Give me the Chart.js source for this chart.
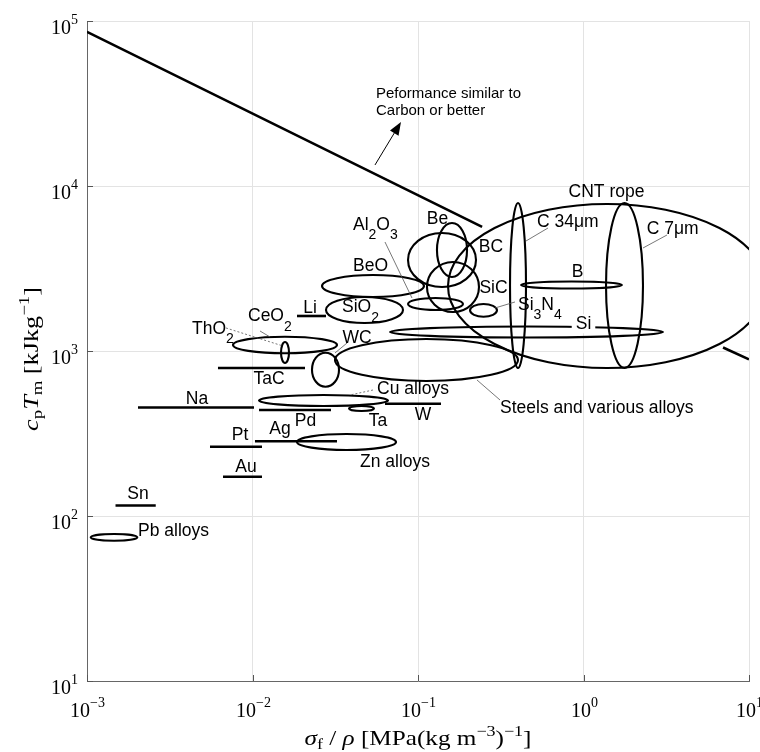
<!DOCTYPE html>
<html>
<head>
<meta charset="utf-8">
<title>cpTm vs specific strength</title>
<script src="https://cdn.jsdelivr.net/npm/chart.js"></script>
<style>
    html, body { margin: 0; padding: 0; background: #fff; }
    #wrap { width: 760px; height: 752px; }
</style>
</head>
<body>
<div id="wrap"><canvas id="chart"></canvas></div>
<script>
// decades on both axes
const xTicks = [1e-3, 1e-2, 1e-1, 1e0, 1e1];
const yTicks = [1e1, 1e2, 1e3, 1e4, 1e5];

// materials drawn as ellipses: strength/density range and cpTm range
const ellipseMaterials = ['Pb alloys', 'Zn alloys', 'Cu alloys', 'Ta', 'WC', 'CeO2', 'ThO2', 'SiO2', 'BeO', 'Al2O3',
    'Be', 'BC', 'SiC', 'Si3N4', 'Steels', 'Si', 'B', 'C 34um', 'C 7um', 'CNT rope'];
const ellipseX = [
    [0.001053, 0.002014], [0.01857, 0.07366], [0.01095, 0.06589], [0.03829, 0.05421], [0.02288, 0.03332],
    [0.007623, 0.0324], [0.01487, 0.01662], [0.0278, 0.08118], [0.0263, 0.1087], [0.08704, 0.187],
    [0.1302, 0.1978], [0.08704, 0.2241], [0.1133, 0.2336], [0.2062, 0.3001], [0.03151, 0.4019],
    [0.06773, 3.023], [0.4193, 1.708], [0.3597, 0.4494], [1.368, 2.288], [0.1518, 12.67]
];
const ellipseY = [
    [70.8, 77.8], [251.2, 314.0], [464.2, 541.1], [432.9, 464.2], [607.5, 976.6],
    [968.5, 1221], [845.9, 1134], [1478, 2125], [2125, 2887], [1773, 2095],
    [2808, 5967], [2443, 5190], [1724, 3463], [1614, 1927], [658, 1182],
    [1207, 1408], [2392, 2638], [789, 7889], [789, 7889], [789, 7778]
];

// materials with a single cpTm value: strength/density range and cpTm
const barMaterials = ['Sn', 'Na', 'Pt', 'Au', 'Ag', 'Pd', 'W', 'TaC', 'Li'];
const barX = [
    [0.001487, 0.002602], [0.002033, 0.01021], [0.005536, 0.01141], [0.006635, 0.01141], [0.01035, 0.0324],
    [0.01095, 0.0298], [0.06318, 0.1377], [0.006186, 0.02076], [0.01857, 0.0278]
];
const barY = [115.8, 454.6, 263.0, 173.1, 283.6, 438.9, 479.2, 788.9, 1630];

// "similar to carbon" line, hidden where it crosses the CNT region
const limitX = [0.001, 0.244, 1, 6.97, 10];
const limitY = [86000, 5650, null, 1050, 890];

// text labels: text, x, y, align  (_ = subscript char)
const labels = [
    ['CNT rope', 1.377, 9391, 'center'],
    ['C 34\u03bcm', 0.5236, 6137, 'left'],
    ['C 7\u03bcm', 2.409, 5566, 'left'],
    ['Be', 0.1312, 6400, 'center'],
    ['BC', 0.2762, 4329, 'center'],
    ['B', 0.9199, 3053, 'center'],
    ['SiC', 0.2859, 2460, 'center'],
    ['Si_3N_4', 0.4019, 1941, 'left'],
    ['Si', 1.0, 1478, 'center', true],
    ['Al_2O_3', 0.04049, 5926, 'left'],
    ['BeO', 0.05164, 3321, 'center'],
    ['SiO_2', 0.03474, 1874, 'left'],
    ['Li', 0.02226, 1861, 'center'],
    ['CeO_2', 0.009393, 1653, 'left'],
    ['ThO_2', 0.004309, 1388, 'left'],
    ['WC', 0.04279, 1224, 'center'],
    ['TaC', 0.01258, 686.2, 'center'],
    ['Na', 0.00462, 522.6, 'center'],
    ['Cu alloys', 0.05652, 596.8, 'left'],
    ['Pd', 0.0209, 381.8, 'center'],
    ['Ta', 0.05731, 384.5, 'center'],
    ['W', 0.1072, 415.2, 'center'],
    ['Pt', 0.008405, 314.0, 'center'],
    ['Ag', 0.01466, 341.5, 'center'],
    ['Zn alloys', 0.04462, 215.4, 'left'],
    ['Au', 0.009134, 201.0, 'center'],
    ['Sn', 0.002033, 137.9, 'center'],
    ['Pb alloys', 0.002033, 82.3, 'left'],
    ['Steels and various alloys', 0.313, 459.6, 'left']
];
const note = ['Peformance similar to', 'Carbon or better'];
const noteAt = [[0.05573, 36770], [0.05573, 28880]];
const arrow = [0.05497, 13410, 0.07892, 24430];

// leader lines: x1, y1, x2, y2, dashed
const leaders = [
    [0.06318, 4577, 0.09199, 2095, false],
    [0.006917, 1379, 0.01529, 1072, true],
    [0.0111, 1322, 0.01276, 1216, false],
    [0.03724, 1118, 0.03151, 972.5, false],
    [0.05346, 580.2, 0.03882, 541.1, true],
    [0.6103, 5566, 0.4494, 4642, false],
    [3.195, 5047, 2.288, 4209, false],
    [0.3855, 1982, 0.2919, 1822, false],
    [0.313, 504.7, 0.2272, 667.2, false]
];

const SANS = '"Liberation Sans", Arial, sans-serif';
const SERIF = '"Liberation Serif", "Times New Roman", serif';
const LABEL = 17.5;

// draws a row of text pieces (sub/superscripts via dy), sx widens it
function drawRuns(ctx, runs, x, y, align, sx = 1) {
    let w = 0;
    runs.forEach(r => { ctx.font = r.font; r.w = ctx.measureText(r.t).width; w += r.w; });
    const tw = w * sx;
    const start = align === 'center' ? x - tw / 2 : align === 'right' ? x - tw : x;
    ctx.save();
    ctx.translate(start, y);
    ctx.scale(sx, 1);
    ctx.textAlign = 'left';
    ctx.textBaseline = 'alphabetic';
    let cx = 0;
    runs.forEach(r => { ctx.font = r.font; ctx.fillText(r.t, cx, r.dy || 0); cx += r.w; });
    ctx.restore();
    return tw;
}

function labelRuns(text, size) {
    const runs = [];
    let buf = '';
    for (let i = 0; i < text.length; i++) {
        if (text[i] === '_') {
            if (buf) runs.push({ t: buf, font: size + 'px ' + SANS });
            buf = '';
            runs.push({ t: text[i + 1], font: Math.round(size * 0.8) + 'px ' + SANS, dy: size * 0.55 });
            i++;
        } else buf += text[i];
    }
    if (buf) runs.push({ t: buf, font: size + 'px ' + SANS });
    return runs;
}

function powRuns(exp) {
    return [
        { t: '10', font: '20px ' + SERIF },
        { t: exp < 0 ? '\u2212' + (-exp) : String(exp), font: '14px ' + SERIF, dy: -10 }
    ];
}

const ashby = {
    id: 'ashby',
    afterDatasetsDraw(chart) {
        const { ctx, chartArea: a, scales: { x, y } } = chart;
        ctx.save();
        ctx.beginPath();
        ctx.rect(a.left, a.top, a.right - a.left, a.bottom - a.top);
        ctx.clip();

        ctx.strokeStyle = '#000';
        ctx.lineWidth = 2.1;
        ellipseX.forEach((ex, i) => {
            const x0 = x.getPixelForValue(ex[0]), x1 = x.getPixelForValue(ex[1]);
            const y0 = y.getPixelForValue(ellipseY[i][0]), y1 = y.getPixelForValue(ellipseY[i][1]);
            ctx.beginPath();
            ctx.ellipse((x0 + x1) / 2, (y0 + y1) / 2, Math.abs(x1 - x0) / 2, Math.abs(y1 - y0) / 2, 0, 0, Math.PI * 2);
            ctx.stroke();
        });

        // leaders
        ctx.strokeStyle = '#555';
        ctx.lineWidth = 0.8;
        leaders.forEach(l => {
            ctx.setLineDash(l[4] ? [2, 2] : []);
            ctx.beginPath();
            ctx.moveTo(x.getPixelForValue(l[0]), y.getPixelForValue(l[1]));
            ctx.lineTo(x.getPixelForValue(l[2]), y.getPixelForValue(l[3]));
            ctx.stroke();
        });
        ctx.setLineDash([]);

        // arrow
        const ax0 = x.getPixelForValue(arrow[0]), ay0 = y.getPixelForValue(arrow[1]);
        const ax1 = x.getPixelForValue(arrow[2]), ay1 = y.getPixelForValue(arrow[3]);
        const ang = Math.atan2(ay1 - ay0, ax1 - ax0);
        ctx.strokeStyle = '#000';
        ctx.lineWidth = 1;
        ctx.beginPath();
        ctx.moveTo(ax0, ay0);
        ctx.lineTo(ax1 - 10 * Math.cos(ang), ay1 - 10 * Math.sin(ang));
        ctx.stroke();
        ctx.fillStyle = '#000';
        ctx.beginPath();
        ctx.moveTo(ax1, ay1);
        ctx.lineTo(ax1 - 13 * Math.cos(ang) + 5 * Math.sin(ang), ay1 - 13 * Math.sin(ang) - 5 * Math.cos(ang));
        ctx.lineTo(ax1 - 13 * Math.cos(ang) - 5 * Math.sin(ang), ay1 - 13 * Math.sin(ang) + 5 * Math.cos(ang));
        ctx.closePath();
        ctx.fill();

        // labels
        labels.forEach(l => {
            const px = x.getPixelForValue(l[1]), py = y.getPixelForValue(l[2]) + LABEL * 0.36;
            const runs = labelRuns(l[0], LABEL);
            if (l[4]) {
                ctx.font = LABEL + 'px ' + SANS;
                const w = ctx.measureText(l[0]).width;
                ctx.fillStyle = '#fff';
                ctx.fillRect(px - w / 2 - 4, py - 15, w + 8, 19);
            }
            ctx.fillStyle = '#000';
            drawRuns(ctx, runs, px, py, l[3]);
        });
        note.forEach((t, i) => {
            ctx.fillStyle = '#000';
            drawRuns(ctx, [{ t, font: '15px ' + SANS }], x.getPixelForValue(noteAt[i][0]), y.getPixelForValue(noteAt[i][1]) + 5.4, 'left');
        });
        ctx.restore();
    },
    afterDraw(chart) {
        const { ctx, chartArea: a, scales: { x, y } } = chart;
        ctx.save();
        ctx.fillStyle = '#000';
        ctx.strokeStyle = '#555';
        ctx.lineWidth = 1;
        // inward ticks
        xTicks.forEach(v => {
            const px = Math.round(x.getPixelForValue(v)) + 0.5;
            ctx.beginPath(); ctx.moveTo(px, a.bottom); ctx.lineTo(px, a.bottom - 6); ctx.stroke();
            drawRuns(ctx, powRuns(Math.round(Math.log10(v))), px, a.bottom + 36, 'center');
        });
        yTicks.forEach(v => {
            const py = Math.round(y.getPixelForValue(v)) + 0.5;
            ctx.beginPath(); ctx.moveTo(a.left, py); ctx.lineTo(a.left + 6, py); ctx.stroke();
            drawRuns(ctx, powRuns(Math.round(Math.log10(v))), a.left - 9, py + 12, 'right');
        });

        // x title
        const it = 'italic 21px ' + SERIF, up = '21px ' + SERIF, sm = '15px ' + SERIF;
        drawRuns(ctx, [
            { t: '\u03c3', font: it }, { t: 'f', font: sm, dy: 4 }, { t: ' / ', font: up },
            { t: '\u03c1', font: it }, { t: ' [MPa(kg m', font: up }, { t: '\u22123', font: sm, dy: -9 },
            { t: ')', font: up }, { t: '\u22121', font: sm, dy: -9 }, { t: ']', font: up }
        ], (a.left + a.right) / 2, 745, 'center', 1.2);

        // y title
        ctx.translate(38, 359);
        ctx.rotate(-Math.PI / 2);
        drawRuns(ctx, [
            { t: 'c', font: it }, { t: 'p', font: sm, dy: 4 }, { t: 'T', font: it }, { t: 'm', font: sm, dy: 4 },
            { t: ' [kJkg', font: up }, { t: '\u22121', font: sm, dy: -9 }, { t: ']', font: up }
        ], 0, 0, 'center', 1.25);
        ctx.restore();
    }
};

const datasets = barMaterials.map((m, i) => ({
    label: m,
    data: [{ x: barX[i][0], y: barY[i] }, { x: barX[i][1], y: barY[i] }],
    showLine: true,
    borderColor: '#000',
    borderWidth: 2.6,
    pointRadius: 0
}));
datasets.push({
    label: 'limit',
    data: limitX.map((v, i) => ({ x: v, y: limitY[i] })),
    showLine: true,
    spanGaps: false,
    borderColor: '#000',
    borderWidth: 2.6,
    pointRadius: 0
});

const gridOpts = { color: '#e3e3e3', lineWidth: 1, drawTicks: false };

new Chart(document.getElementById('chart'), {
    type: 'scatter',
    data: { datasets },
    options: {
        responsive: true,
        maintainAspectRatio: false,
        animation: false,
        layout: { padding: { top: 21, right: 11, left: 0, bottom: 0 } },
        plugins: { legend: { display: false }, tooltip: { enabled: false } },
        scales: {
            x: {
                type: 'logarithmic', min: 1e-3, max: 10,
                afterBuildTicks: s => { s.ticks = xTicks.map(v => ({ value: v })); },
                afterFit: s => { s.height = 71; },
                ticks: { display: false },
                grid: gridOpts,
                border: { color: '#666', width: 1 }
            },
            y: {
                type: 'logarithmic', min: 10, max: 1e5,
                afterBuildTicks: s => { s.ticks = yTicks.map(v => ({ value: v })); },
                afterFit: s => { s.width = 87; },
                ticks: { display: false },
                grid: gridOpts,
                border: { color: '#666', width: 1 }
            }
        }
    },
    plugins: [ashby]
});
</script>
</body>
</html>
